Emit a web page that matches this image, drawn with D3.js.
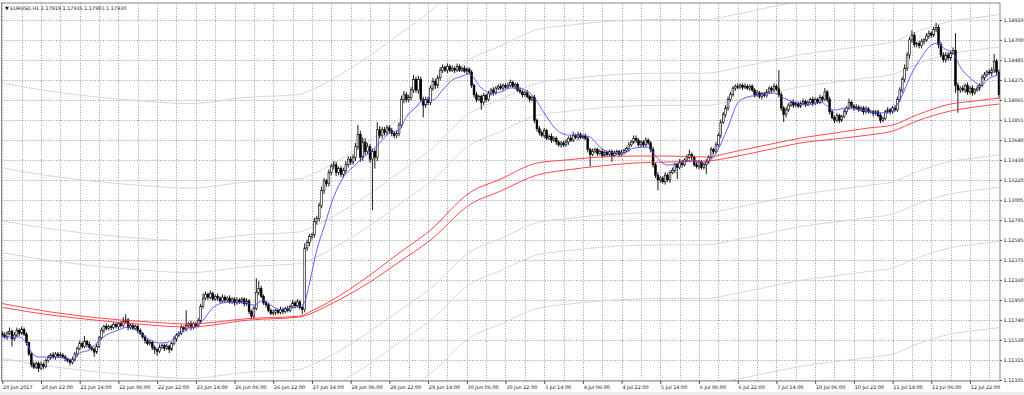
<!DOCTYPE html>
<html>
<head>
<meta charset="utf-8">
<script src="https://cdn.jsdelivr.net/npm/d3@7"></script>
<style>
  body { margin: 0; background: #fff; }
  svg { display: block; }
</style>
</head>
<body>
<svg id="chart" width="1024" height="395"></svg>
<script>
// ---- data ----
const title = "EURUSD,H1  1.17919 1.17935 1.17903 1.17930";

const priceTicks = [1.14910, 1.14700, 1.14485, 1.14275, 1.14065, 1.13855, 1.13640, 1.13430, 1.13220,
  1.13005, 1.12795, 1.12585, 1.12375, 1.12160, 1.11950, 1.11740, 1.11530, 1.11315, 1.11105];

// one label every 16 hourly bars
const timeLabels = ["20 Jun 2017", "20 Jun 22:00", "21 Jun 14:00", "22 Jun 06:00", "22 Jun 22:00",
  "23 Jun 14:00", "26 Jun 06:00", "26 Jun 22:00", "27 Jun 14:00", "28 Jun 06:00", "28 Jun 22:00",
  "29 Jun 14:00", "30 Jun 06:00", "30 Jun 22:00", "3 Jul 14:00", "4 Jul 06:00", "4 Jul 22:00",
  "5 Jul 14:00", "6 Jul 06:00", "6 Jul 22:00", "7 Jul 14:00", "10 Jul 06:00", "10 Jul 22:00",
  "11 Jul 14:00", "12 Jul 06:00", "12 Jul 22:00"];

// hourly closes (open of a bar = close of the bar before)
const firstOpen = 1.1160;
const close = [
  1.1158,1.1156,1.1160,1.1162,1.1154,1.1158,1.1163,1.1160,1.1164,1.1159,
  1.1150,1.1138,1.1127,1.1124,1.1128,1.1123,1.1127,1.1125,1.1131,1.1134,
  1.1137,1.1135,1.1138,1.1136,1.1137,1.1135,1.1133,1.1131,1.1129,1.1132,
  1.1138,1.1144,1.1149,1.1146,1.1151,1.1148,1.1145,1.1143,1.1140,1.1146,
  1.1155,1.1163,1.1167,1.1165,1.1167,1.1166,1.1169,1.1167,1.1170,1.1168,
  1.1172,1.1174,1.1166,1.1168,1.1165,1.1167,1.1163,1.1160,1.1156,1.1152,
  1.1149,1.1150,1.1145,1.1143,1.1141,1.1145,1.1147,1.1144,1.1146,1.1143,
  1.1149,1.1154,1.1158,1.1160,1.1166,1.1164,1.1168,1.1170,1.1166,1.1170,
  1.1168,1.1173,1.1188,1.1197,1.1201,1.1198,1.1202,1.1196,1.1199,1.1197,
  1.1194,1.1198,1.1195,1.1197,1.1193,1.1196,1.1192,1.1195,1.1193,1.1196,
  1.1191,1.1194,1.1183,1.1178,1.1186,1.1203,1.1207,1.1199,1.1192,1.1190,
  1.1184,1.1181,1.1182,1.1184,1.1182,1.1185,1.1183,1.1186,1.1184,1.1188,
  1.1192,1.1189,1.1193,1.1187,1.1185,1.1250,1.1256,1.1262,1.1264,1.1278,
  1.1281,1.1295,1.1311,1.1321,1.1318,1.1330,1.1336,1.1338,1.1330,1.1334,
  1.1328,1.1332,1.1338,1.1344,1.1341,1.1346,1.1357,1.1370,1.1346,1.1362,
  1.1352,1.1357,1.1344,1.1352,1.1346,1.1375,1.1369,1.1375,1.1372,1.1377,
  1.1374,1.1371,1.1369,1.1371,1.1380,1.1407,1.1412,1.1407,1.1409,1.1417,
  1.1428,1.1417,1.1428,1.1407,1.1401,1.1407,1.1404,1.1419,1.1426,1.1422,
  1.1430,1.1438,1.1441,1.1438,1.1442,1.1438,1.1440,1.1438,1.1442,1.1438,
  1.1440,1.1437,1.1439,1.1436,1.1422,1.1412,1.1407,1.1410,1.1404,1.1411,
  1.1407,1.1413,1.1417,1.1414,1.1419,1.1421,1.1419,1.1422,1.1420,1.1422,
  1.1425,1.1421,1.1423,1.1417,1.1415,1.1412,1.1414,1.1410,1.1407,1.1409,
  1.1385,1.1376,1.1372,1.1369,1.1374,1.1366,1.1368,1.1364,1.1366,1.1362,
  1.1359,1.1361,1.1359,1.1362,1.1366,1.1364,1.1369,1.1367,1.1370,1.1367,
  1.1368,1.1366,1.1354,1.1349,1.1352,1.1354,1.1350,1.1352,1.1348,1.1351,
  1.1349,1.1352,1.1348,1.1350,1.1352,1.1349,1.1351,1.1353,1.1355,1.1359,
  1.1362,1.1366,1.1364,1.1359,1.1362,1.1359,1.1364,1.1361,1.1354,1.1338,
  1.1327,1.1322,1.1324,1.1320,1.1327,1.1322,1.1330,1.1332,1.1338,1.1335,
  1.1341,1.1338,1.1343,1.1346,1.1349,1.1346,1.1338,1.1336,1.1341,1.1335,
  1.1338,1.1341,1.1346,1.1354,1.1352,1.1359,1.1369,1.1383,1.1391,1.1398,
  1.1407,1.1412,1.1419,1.1421,1.1420,1.1422,1.1420,1.1421,1.1419,1.1421,
  1.1417,1.1412,1.1414,1.1410,1.1413,1.1411,1.1415,1.1419,1.1417,1.1421,
  1.1418,1.1412,1.1398,1.1391,1.1396,1.1401,1.1404,1.1401,1.1403,1.1400,
  1.1403,1.1405,1.1402,1.1404,1.1407,1.1403,1.1407,1.1404,1.1409,1.1407,
  1.1415,1.1407,1.1394,1.1388,1.1385,1.1390,1.1385,1.1389,1.1394,1.1398,
  1.1404,1.1400,1.1398,1.1399,1.1396,1.1398,1.1394,1.1397,1.1394,1.1394,
  1.1392,1.1394,1.1390,1.1385,1.1387,1.1394,1.1396,1.1394,1.1398,1.1396,
  1.1407,1.1417,1.1428,1.1440,1.1454,1.1470,1.1475,1.1465,1.1466,1.1464,
  1.1468,1.1470,1.1474,1.1477,1.1475,1.1481,1.1483,1.1465,1.1454,1.1449,
  1.1454,1.1451,1.1456,1.1459,1.1422,1.1417,1.1419,1.1417,1.1422,1.1415,
  1.1419,1.1414,1.1417,1.1419,1.1422,1.1430,1.1433,1.1436,1.1435,1.1438,
  1.1447,1.1436,1.1412
];

// wick lengths beyond the body, in pips
const wickUp = [
  2,3,2,4,2,3,3,2,3,2, 2,1,2,3,2,2,3,2,2,3, 2,3,2,2,3,2,2,1,2,3, 2,2,3,2,6,2,3,2,2,3,
  2,3,2,3,2,2,3,2,2,3, 5,6,2,2,3,2,2,2,1,2, 2,3,2,2,1,3,2,2,3,2, 2,3,2,2,3,2,16,2,3,2,
  2,3,3,5,3,2,3,2,2,3, 2,3,2,2,3,2,2,3,2,2, 2,3,2,2,3,15,8,3,2,2, 2,2,3,2,2,3,2,2,3,2,
  3,2,3,2,2,5,3,3,2,4, 3,3,4,3,2,3,3,4,3,2, 3,3,4,3,3,3,4,10,4,5, 4,4,3,3,3,8,4,3,3,3,
  3,3,2,3,3,4,4,3,3,3, 5,3,4,3,3,3,3,3,4,3, 3,3,3,2,3,2,3,2,3,2, 2,3,2,2,2,2,3,2,2,3,
  2,3,2,3,2,2,3,2,2,3, 3,2,2,2,3,2,2,3,2,2, 3,2,3,2,3,2,2,3,2,2, 2,2,2,3,2,3,4,2,3,2,
  2,3,2,2,3,2,2,2,3,2, 2,2,2,3,2,2,3,2,2,3, 2,3,3,2,2,2,3,2,2,3, 2,3,2,2,3,2,2,3,2,2,
  3,2,2,3,5,2,2,3,2,2, 2,3,2,3,2,3,3,3,3,3, 3,3,2,2,3,2,2,3,2,2, 2,2,3,2,2,2,3,2,2,3,
  2,20,3,2,3,2,2,3,2,2, 2,3,2,2,2,3,2,2,3,2, 4,2,3,2,2,3,2,2,3,2, 4,2,2,3,2,2,2,3,2,2,
  2,2,2,3,2,2,3,2,2,3, 3,3,3,4,3,3,5,3,2,3, 3,2,3,3,2,3,5,3,3,3, 3,3,2,3,18,3,2,3,2,3,
  2,3,2,3,2,3,3,2,3,3, 8,3,3
];
const wickDown = [
  2,2,3,2,8,2,2,3,2,2, 3,2,3,2,2,4,2,3,2,2, 2,2,3,2,2,2,3,2,3,2, 2,3,2,2,2,3,2,2,5,2,
  2,2,3,2,2,3,2,2,3,2, 2,2,3,2,2,2,3,2,2,3, 2,2,3,5,5,2,2,3,2,4, 2,2,3,2,2,3,2,2,3,2,
  2,2,3,2,2,3,2,2,2,3, 2,2,3,2,2,2,3,2,2,2, 3,2,3,3,2,2,3,2,2,3, 2,2,2,3,2,2,3,2,2,2,
  2,3,2,2,5,3,3,4,3,3, 3,3,3,4,3,3,3,3,4,3, 3,4,3,3,3,3,4,3,5,4, 4,3,4,54,12,4,3,3,3,3,
  3,3,3,3,3,3,4,3,3,3, 3,3,4,3,13,3,3,3,3,4, 3,3,3,2,3,2,2,3,2,2, 2,2,3,2,3,3,3,2,8,3,
  3,2,2,3,2,2,2,3,2,2, 2,2,3,2,2,3,2,2,3,2, 3,3,3,2,3,2,2,3,2,3, 2,3,2,2,3,2,2,2,3,2,
  2,2,3,13,2,2,3,2,3,2, 2,2,7,2,2,3,2,2,2,3, 2,2,3,2,2,3,2,2,3,3, 3,11,3,2,3,2,3,2,3,12,
  2,3,2,2,2,3,2,2,3,2, 2,10,2,2,3,2,2,3,2,3, 3,2,2,3,2,2,3,2,2,3, 2,3,2,2,3,2,2,2,3,2,
  2,3,3,8,3,2,2,3,2,2, 2,2,3,2,2,3,2,2,2,3, 2,3,3,2,3,2,3,2,2,3, 2,2,3,2,2,2,3,2,2,2,
  3,2,2,3,2,2,2,3,2,2, 2,3,3,3,3,4,3,3,3,3, 3,3,2,3,3,2,3,4,3,3, 3,3,3,2,8,24,3,2,3,3,
  2,3,2,2,3,2,3,2,2,3, 3,3,4
];

// fast moving average (blue), sampled at bar indices
const blueBars = [0,7,10,12,15,19,26,29,32,36,39,43,48,52,54,57,61,65,69,73,77,80,83,87,91,95,101,104,108,111,
  115,119,123,125,127,130,133,137,141,145,149,152,156,160,164,167,171,174,178,182,186,189,193,198,202,206,210,213,
  219,224,228,234,239,243,247,251,257,261,267,269,275,280,286,290,294,300,304,308,313,319,323,327,333,338,344,
  349,355,362,367,371,376,380,384,387,389,393,396,400,405,407,412];
const blueMA = [1.11559,1.11559,1.11496,1.11401,1.11348,1.11348,1.11337,1.11316,1.11390,1.11422,1.11496,1.11580,
  1.11633,1.11665,1.11654,1.11602,1.11528,1.11496,1.11507,1.11602,1.11654,1.11665,1.11739,1.11866,1.11919,1.11929,
  1.11919,1.11897,1.11950,1.11897,1.11845,1.11866,1.11887,1.11929,1.12130,1.12479,1.12722,1.13039,1.13250,1.13356,
  1.13451,1.13514,1.13610,1.13716,1.13747,1.13884,1.13990,1.14064,1.14064,1.14170,1.14276,1.14307,1.14339,1.14191,
  1.14138,1.14149,1.14191,1.14191,1.14117,1.13927,1.13779,1.13694,1.13694,1.13673,1.13567,1.13514,1.13504,1.13557,
  1.13567,1.13504,1.13377,1.13398,1.13430,1.13398,1.13462,1.13779,1.14032,1.14096,1.14117,1.14138,1.14085,1.14043,
  1.14011,1.14043,1.13958,1.13980,1.13958,1.13927,1.13937,1.14064,1.14349,1.14519,1.14645,1.14667,1.14614,1.14561,
  1.14413,1.14297,1.14223,1.14276,1.14328];

// two slow averages (red), sampled at bar indices
const redBars = [0,20,40,61,77,102,123,127,135,152,164,177,193,206,221,233,247,261,275,291,302,316,330,344,358,368,378,392,402,412];
const redUpper = [1.11913,1.11824,1.11760,1.11718,1.11697,1.11755,1.11781,1.11824,1.11929,1.12215,1.12447,1.12690,
  1.13081,1.13229,1.13398,1.13430,1.13462,1.13472,1.13472,1.13462,1.13515,1.13589,1.13662,1.13715,1.13768,1.13800,
  1.13906,1.14022,1.14054,1.14085];
const redLower = [1.11871,1.11792,1.11734,1.11686,1.11665,1.11739,1.11771,1.11802,1.11897,1.12141,1.12352,1.12584,
  1.12954,1.13102,1.13271,1.13324,1.13366,1.13398,1.13409,1.13419,1.13462,1.13536,1.13610,1.13652,1.13694,1.13736,
  1.13842,1.13948,1.13990,1.14022];

// grey envelopes round the slow average, in percent
const envelopePct = [0.5, 0.8, 1.3, 2.1];

// ---- layout ----
const plot = { left: 1.5, top: 3, right: 1000, bottom: 381 };
const barsPerGrid = 8, barsPerLabel = 16;

const svg = d3.select("#chart");

const x = d3.scaleLinear().domain([0, close.length - 1]).range([2.3, 999]);
const y = d3.scaleLinear().domain([1.11105, 1.14910]).range([380, 20]);

svg.append("defs").append("clipPath").attr("id", "plotClip")
  .append("rect")
  .attr("x", plot.left).attr("y", plot.top)
  .attr("width", plot.right - plot.left).attr("height", plot.bottom - plot.top);

// bottom strip
svg.append("rect").attr("x", 0).attr("y", 392).attr("width", 1024).attr("height", 3).attr("fill", "#ececec");

// grid
const grid = svg.append("g")
  .attr("stroke", "#8193b0")
  .attr("stroke-width", 0.9)
  .attr("stroke-dasharray", "1,1.6");

grid.selectAll(".h").data(priceTicks).join("line")
  .attr("class", "h")
  .attr("x1", plot.left).attr("x2", plot.right)
  .attr("y1", d => Math.round(y(d)) + 0.5).attr("y2", d => Math.round(y(d)) + 0.5);

grid.selectAll(".v").data(d3.range(0, close.length, barsPerGrid)).join("line")
  .attr("class", "v")
  .attr("x1", d => Math.round(x(d)) + 0.5).attr("x2", d => Math.round(x(d)) + 0.5)
  .attr("y1", plot.top).attr("y2", plot.bottom);

const chart = svg.append("g").attr("clip-path", "url(#plotClip)");

// grey envelopes round the mean of the two red averages
const line = d3.line()
  .x(d => x(d[0]))
  .y(d => y(d[1]))
  .curve(d3.curveMonotoneX);

const center = redBars.map((b, k) => [b, (redUpper[k] + redLower[k]) / 2]);

envelopePct.forEach(function (p) {
  [1, -1].forEach(function (s) {
    chart.append("path")
      .attr("d", line(center.map(d => [d[0], d[1] * (1 + s * p / 100)])))
      .attr("fill", "none")
      .attr("stroke", "#d2d2d2")
      .attr("stroke-width", 0.9);
  });
});

// candles
const bars = close.map(function (c, i) {
  const o = i ? close[i - 1] : firstOpen;
  return {
    i: i, o: o, c: c,
    h: Math.max(o, c) + wickUp[i] / 10000,
    l: Math.min(o, c) - wickDown[i] / 10000
  };
});

const candle = chart.append("g").selectAll("g").data(bars).join("g");

candle.append("line")
  .attr("x1", d => x(d.i)).attr("x2", d => x(d.i))
  .attr("y1", d => y(d.h)).attr("y2", d => y(d.l))
  .attr("stroke", "#000")
  .attr("stroke-width", 0.9);

candle.append("rect")
  .attr("x", d => x(d.i) - 0.9)
  .attr("width", 1.8)
  .attr("y", d => y(Math.max(d.o, d.c)))
  .attr("height", d => Math.max(0.7, y(Math.min(d.o, d.c)) - y(Math.max(d.o, d.c))))
  .attr("fill", d => d.c >= d.o ? "#fff" : "#000")
  .attr("stroke", "#000")
  .attr("stroke-width", 0.6);

// averages drawn over the candles
[redUpper, redLower].forEach(function (vals) {
  chart.append("path")
    .attr("d", line(redBars.map((b, k) => [b, vals[k]])))
    .attr("fill", "none")
    .attr("stroke", "#ff3434")
    .attr("stroke-width", 0.9);
});

chart.append("path")
  .attr("d", line(blueBars.map((b, k) => [b, blueMA[k]])))
  .attr("fill", "none")
  .attr("stroke", "#5050ff")
  .attr("stroke-width", 0.9);

// frame
svg.append("rect")
  .attr("x", plot.left).attr("y", plot.top)
  .attr("width", plot.right - plot.left).attr("height", plot.bottom - plot.top)
  .attr("fill", "none")
  .attr("stroke", "#6a6a6a")
  .attr("stroke-width", 0.8);

// price axis
const yAxis = svg.append("g")
  .attr("transform", "translate(" + plot.right + ",0)")
  .call(d3.axisRight(y).tickValues(priceTicks).tickFormat(d3.format(".5f")).tickSize(2).tickPadding(1.5));
yAxis.select(".domain").remove();
yAxis.attr("font-family", "DejaVu Sans").attr("font-size", 4.9);
yAxis.selectAll("line").attr("stroke", "#555");
yAxis.selectAll("text").attr("fill", "#111");

// time axis
const xAxis = svg.append("g")
  .attr("transform", "translate(0," + plot.bottom + ")")
  .call(d3.axisBottom(x)
    .tickValues(timeLabels.map((t, k) => k * barsPerLabel))
    .tickFormat((d, k) => timeLabels[k])
    .tickSize(3).tickPadding(1.5));
xAxis.select(".domain").remove();
xAxis.attr("font-family", "DejaVu Sans").attr("font-size", 4.9);
xAxis.selectAll("line").attr("stroke", "#555");
xAxis.selectAll("text").attr("text-anchor", "start").attr("x", 0.3).attr("fill", "#111");

// title
svg.append("text")
  .attr("x", 5).attr("y", 10)
  .attr("font-family", "DejaVu Sans")
  .attr("font-size", 4.9)
  .attr("fill", "#111")
  .text("\u25BC " + title);
</script>
</body>
</html>
